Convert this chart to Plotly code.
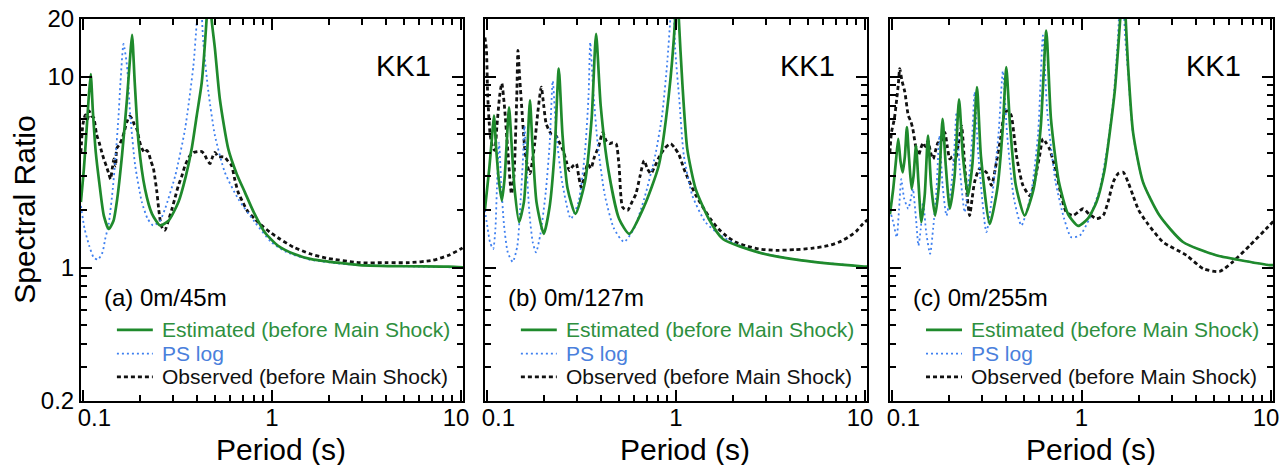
import plotly.graph_objects as go

FONT = "Liberation Sans, Arial, Helvetica, sans-serif"
GREEN = "#1f8a2c"
GREEN_TXT = "#2e8f3e"
BLUE = "#3f80f0"
BLUE_TXT = "#4a80dc"
BLACK = "#111111"

# ---------------- Panel (a) 0m/45m ----------------
T_est_a = [0.0976, 0.101, 0.104, 0.107, 0.110, 0.113, 0.117, 0.122, 0.129, 0.137, 0.145, 0.152, 0.161,
           0.171, 0.178, 0.182, 0.188, 0.197, 0.213, 0.232, 0.256, 0.284, 0.320, 0.350, 0.376, 0.400,
           0.425, 0.451, 0.465, 0.479, 0.499, 0.530, 0.587, 0.650, 0.718, 0.800, 0.915, 1.076, 1.30,
           1.585, 2.2, 2.9, 5.0, 8.6, 10.3]
R_est_a = [2.2, 3.2, 4.8, 7.4, 10.3, 6.5, 4.0, 2.8, 1.87, 1.59, 1.75, 2.3, 3.86,
           7.6, 12.9, 16.5, 9.3, 4.5, 2.58, 1.91, 1.66, 1.76, 2.2, 3.0, 4.18, 6.25,
           9.3, 20.0, 35.0, 20.0, 14.0, 7.6, 4.18, 3.1, 2.48, 1.95, 1.53, 1.30, 1.18,
           1.11, 1.06, 1.03, 1.015, 1.01, 1.0]

T_ps_a = [0.0976, 0.102, 0.108, 0.114, 0.120, 0.127, 0.131, 0.137, 0.144, 0.149, 0.154, 0.158, 0.164,
          0.171, 0.178, 0.189, 0.205, 0.220, 0.235, 0.255, 0.272, 0.308, 0.347, 0.384, 0.400, 0.416,
          0.433, 0.461, 0.499, 0.563, 0.662, 0.811, 0.990, 1.2, 1.585, 2.5, 5.0, 10.3]
R_ps_a = [2.1, 1.6, 1.3, 1.13, 1.10, 1.2, 1.4, 1.7, 2.6, 3.86, 6.0, 9.3, 14.8,
          11.4, 6.25, 3.42, 2.2, 1.8, 1.66, 1.75, 2.03, 3.03, 5.32, 11.4, 19.2, 30.0,
          15.1, 8.3, 4.91, 3.15, 2.29, 1.73, 1.36, 1.2, 1.10, 1.04, 1.015, 1.0]

T_obs_a = [0.0976, 0.100, 0.103, 0.106, 0.108, 0.111, 0.114, 0.118, 0.122, 0.126, 0.129, 0.133, 0.137,
           0.140, 0.143, 0.146, 0.149, 0.151, 0.156, 0.161, 0.166, 0.171, 0.177, 0.182, 0.187, 0.193,
           0.199, 0.205, 0.212, 0.218, 0.222, 0.229, 0.236, 0.241, 0.246, 0.252, 0.258, 0.264, 0.272,
           0.280, 0.296, 0.310, 0.320, 0.333, 0.347, 0.365, 0.384, 0.405, 0.425, 0.440, 0.451, 0.470,
           0.485, 0.499, 0.520, 0.545, 0.563, 0.585, 0.611, 0.635, 0.662, 0.700, 0.748, 0.810, 0.865,
           0.976, 1.10, 1.295, 1.585, 1.94, 2.9, 4.0, 5.3, 7.06, 8.6, 9.95, 10.3]
R_obs_a = [4.0, 5.6, 6.3, 6.0, 6.6, 6.2, 6.1, 5.0, 4.5, 4.0, 3.7, 3.4, 3.1,
           2.9, 3.3, 3.7, 3.4, 4.2, 4.4, 4.7, 5.2, 5.8, 6.2, 6.0, 5.6, 5.3,
           4.6, 4.2, 4.0, 4.1, 4.0, 3.6, 3.3, 2.9, 2.5, 2.0, 1.7, 1.6, 1.57,
           1.7, 2.03, 2.4, 2.69, 3.0, 3.42, 3.8, 4.0, 4.05, 4.05, 3.9, 3.71, 3.5,
           3.8, 4.0, 3.8, 3.8, 3.78, 3.6, 3.42, 2.9, 2.48, 2.2, 1.95, 1.8, 1.69,
           1.53, 1.41, 1.28, 1.18, 1.12, 1.06, 1.06, 1.06, 1.09, 1.16, 1.25, 1.28]

# ---------------- Panel (b) 0m/127m ----------------
T_est_b = [0.0976, 0.103, 0.106, 0.109, 0.112, 0.116, 0.120, 0.124, 0.127, 0.131, 0.135, 0.140, 0.148,
           0.157, 0.163, 0.169, 0.174, 0.183, 0.200, 0.215, 0.228, 0.240, 0.251, 0.267, 0.294, 0.330,
           0.358, 0.378, 0.400, 0.440, 0.500, 0.566, 0.680, 0.811, 0.915, 0.990, 1.012, 1.035, 1.08,
           1.147, 1.27, 1.49, 1.77, 2.73, 4.61, 9.55, 10.3]
R_est_b = [2.0, 3.3, 4.6, 6.25, 4.2, 2.8, 2.24, 2.9, 4.3, 6.9, 4.5, 2.6, 1.73,
           2.2, 3.8, 7.5, 4.5, 2.2, 1.50, 2.1, 4.0, 11.0, 5.0, 2.6, 1.91, 2.8,
           6.0, 16.7, 7.0, 3.2, 1.8, 1.50, 2.1, 3.42, 7.9, 20.0, 35.0, 20.0, 9.3,
           4.18, 2.58, 1.8, 1.41, 1.20, 1.09, 1.015, 1.01]

T_ps_b = [0.0976, 0.101, 0.104, 0.108, 0.111, 0.113, 0.116, 0.119, 0.123, 0.129, 0.137, 0.145, 0.151,
          0.155, 0.158, 0.162, 0.168, 0.175, 0.182, 0.192, 0.205, 0.215, 0.223, 0.233, 0.250, 0.278,
          0.305, 0.330, 0.345, 0.352, 0.365, 0.385, 0.420, 0.470, 0.531, 0.600, 0.680, 0.778, 0.844,
          0.900, 0.933, 0.960, 0.990, 1.04, 1.10, 1.22, 1.43, 1.68, 2.0, 2.73, 4.61, 9.55, 10.3]
R_ps_b = [2.0, 1.6, 1.35, 1.25, 1.6, 2.6, 4.5, 2.8, 1.7, 1.2, 1.07, 1.3, 2.3,
          3.6, 5.5, 3.5, 1.9, 1.35, 1.2, 1.5, 2.5, 4.5, 9.5, 5.0, 2.8, 1.8,
          2.2, 4.0, 8.0, 15.1, 8.5, 4.5, 2.4, 1.6, 1.36, 1.6, 2.3, 3.9, 6.25,
          12.0, 20.0, 35.0, 14.0, 7.65, 3.86, 2.38, 1.73, 1.5, 1.35, 1.2, 1.09, 1.015, 1.01]

T_obs_b = [0.0976, 0.0994, 0.101, 0.104, 0.107, 0.110, 0.113, 0.117, 0.120, 0.124, 0.129, 0.135, 0.139,
           0.141, 0.144, 0.146, 0.149, 0.152, 0.159, 0.164, 0.169, 0.174, 0.179, 0.186, 0.194, 0.200,
           0.206, 0.219, 0.232, 0.242, 0.253, 0.263, 0.273, 0.285, 0.297, 0.306, 0.315, 0.328, 0.341,
           0.355, 0.370, 0.390, 0.410, 0.428, 0.444, 0.462, 0.482, 0.500, 0.522, 0.554, 0.585, 0.614,
           0.645, 0.678, 0.705, 0.736, 0.775, 0.814, 0.870, 0.938, 0.990, 1.037, 1.10, 1.17, 1.27,
           1.375, 1.52, 1.68, 1.85, 2.06, 2.4, 2.73, 3.4, 4.27, 5.2, 6.38, 7.3, 8.13, 9.0, 9.55, 10.3]
R_obs_b = [16.0, 14.0, 8.0, 5.0, 4.3, 4.1, 5.5, 8.0, 9.2, 6.9, 4.1, 2.43, 3.0,
           4.1, 8.0, 13.7, 10.0, 7.5, 4.1, 3.4, 3.1, 3.6, 4.45, 6.5, 8.8, 7.0,
           5.65, 5.0, 4.9, 4.5, 4.1, 3.6, 3.22, 3.4, 3.49, 3.0, 2.63, 3.0, 3.49,
           3.3, 3.78, 4.3, 5.1, 4.6, 4.45, 4.5, 4.45, 3.4, 2.07, 1.99, 2.2, 2.43,
           3.0, 3.63, 3.3, 3.1, 3.4, 3.78, 4.2, 4.45, 4.2, 3.9, 3.3, 2.85, 2.4,
           2.1, 1.8, 1.59, 1.46, 1.36, 1.29, 1.25, 1.23, 1.24, 1.26, 1.30, 1.36, 1.44, 1.55, 1.66, 1.78]

# ---------------- Panel (c) 0m/255m ----------------
T_est_c = [0.0976, 0.1017, 0.105, 0.108, 0.111, 0.114, 0.117, 0.120, 0.123, 0.127, 0.130, 0.134, 0.138,
           0.143, 0.149, 0.155, 0.161, 0.169, 0.177, 0.185, 0.192, 0.202, 0.214, 0.226, 0.237, 0.252,
           0.266, 0.281, 0.295, 0.328, 0.360, 0.385, 0.401, 0.420, 0.450, 0.501, 0.560, 0.610, 0.652,
           0.690, 0.760, 0.850, 0.960, 1.08, 1.20, 1.32, 1.41, 1.50, 1.56, 1.60, 1.66, 1.71, 1.76,
           1.87, 2.11, 2.58, 3.43, 5.13, 9.81, 10.3]
R_est_c = [1.9, 2.6, 3.6, 4.72, 3.6, 3.15, 3.8, 5.43, 3.8, 2.58, 3.0, 4.35, 2.8,
           1.73, 2.4, 4.91, 2.7, 1.87, 2.7, 6.0, 3.5, 2.03, 3.0, 7.6, 3.8, 2.38,
           3.5, 8.8, 3.8, 1.69, 2.6, 5.5, 11.2, 5.5, 2.7, 1.87, 2.6, 5.5, 17.4,
           6.0, 2.8, 1.9, 1.65, 1.8, 2.2, 3.2, 5.1, 8.5, 14.0, 20.0, 35.0, 20.0, 11.4,
           5.1, 2.8, 1.87, 1.36, 1.16, 1.03, 1.03]

T_ps_c = [0.0976, 0.102, 0.106, 0.109, 0.112, 0.116, 0.122, 0.126, 0.129, 0.134, 0.138, 0.142, 0.146,
          0.152, 0.159, 0.165, 0.172, 0.178, 0.185, 0.194, 0.205, 0.213, 0.219, 0.227, 0.242, 0.257,
          0.265, 0.273, 0.285, 0.315, 0.340, 0.365, 0.385, 0.405, 0.440, 0.482, 0.540, 0.590, 0.626,
          0.660, 0.730, 0.810, 0.883, 0.980, 1.10, 1.25, 1.38, 1.48, 1.55, 1.63, 1.70, 1.76, 1.87,
          2.11, 2.58, 3.43, 5.13, 9.81, 10.3]
R_ps_c = [2.0, 1.7, 1.44, 2.0, 2.9, 2.3, 2.03, 2.3, 2.58, 1.8, 1.30, 1.6, 2.2,
          1.5, 1.18, 1.6, 2.6, 4.9, 2.7, 1.87, 2.6, 4.0, 6.5, 3.5, 1.95, 3.2,
          4.8, 8.3, 4.0, 1.53, 2.5, 5.0, 10.7, 5.0, 2.3, 1.66, 2.4, 5.0, 16.4,
          6.5, 2.8, 1.8, 1.44, 1.47, 1.8, 2.6, 4.5, 8.0, 15.0, 35.0, 16.0, 10.5, 5.0,
          2.8, 1.87, 1.36, 1.16, 1.03, 1.03]

T_obs_c = [0.0976, 0.0995, 0.103, 0.106, 0.108, 0.110, 0.113, 0.117, 0.122, 0.126, 0.129, 0.133, 0.138,
           0.142, 0.146, 0.150, 0.155, 0.160, 0.165, 0.170, 0.175, 0.182, 0.190, 0.196, 0.202, 0.208,
           0.215, 0.224, 0.233, 0.242, 0.250, 0.257, 0.265, 0.273, 0.290, 0.315, 0.335, 0.356, 0.375,
           0.394, 0.410, 0.426, 0.440, 0.454, 0.470, 0.491, 0.533, 0.555, 0.578, 0.600, 0.626, 0.650,
           0.678, 0.710, 0.736, 0.780, 0.831, 0.900, 0.960, 1.02, 1.10, 1.20, 1.30, 1.38, 1.47,
           1.56, 1.66, 1.76, 1.87, 2.0, 2.2, 2.69, 3.57, 4.39, 5.34, 6.28, 7.7, 9.39, 10.3]
R_obs_c = [4.0, 5.1, 6.0, 7.6, 9.0, 11.0, 9.5, 8.3, 6.25, 5.8, 5.3, 4.4, 3.86,
           4.2, 4.5, 4.3, 4.6, 4.0, 3.7, 4.1, 4.5, 4.6, 5.1, 4.3, 3.7, 3.8,
           3.6, 4.4, 5.5, 3.42, 2.3, 1.87, 2.3, 2.8, 3.29, 3.15, 2.69, 3.56, 4.8,
           6.5, 6.6, 6.25, 5.0, 3.86, 3.2, 2.69, 2.38, 2.6, 3.15, 3.8, 4.72, 4.5,
           4.18, 3.6, 3.15, 2.4, 1.95, 1.87, 1.95, 2.03, 1.9, 1.8, 1.87, 2.2, 2.8,
           3.1, 3.15, 2.8, 2.38, 2.0, 1.73, 1.36, 1.16, 0.985, 0.953, 1.07, 1.30, 1.59, 1.75]

panel_labels = ["(a) 0m/45m", "(b) 0m/127m", "(c) 0m/255m"]
site_label = "KK1"
legend_names = ["Estimated (before Main Shock)", "PS log", "Observed (before Main Shock)"]
x_tickvals = [0.1, 1, 10]
x_ticktext = ["0.1", "1", "10"]
# where the reference prints its period labels (pulled slightly inward at the ends)
x_labelvals = [0.115, 1, 9.4]
x_minor = [0.2, 0.3, 0.4, 0.5, 0.6, 0.7, 0.8, 0.9, 2, 3, 4, 5, 6, 7, 8, 9]
y_tickvals = [0.2, 1, 10, 20]
y_ticktext = ["0.2", "1", "10", "20"]
y_minor = [0.3, 0.4, 0.5, 0.6, 0.7, 0.8, 0.9, 2, 3, 4, 5, 6, 7, 8, 9]

panels = [
    (T_est_a, R_est_a, T_ps_a, R_ps_a, T_obs_a, R_obs_a),
    (T_est_b, R_est_b, T_ps_b, R_ps_b, T_obs_b, R_obs_b),
    (T_est_c, R_est_c, T_ps_c, R_ps_c, T_obs_c, R_obs_c),
]

domains = [[0.0, 0.3205], [0.3389, 0.6594], [0.6787, 1.0]]
X_RANGE = [-1.01, 1.01]
Y_RANGE = [-0.69897, 1.30103]

styles = [
    dict(color=GREEN, width=2.7, dash="solid"),
    dict(color=BLUE, width=1.8, dash="2px,3px"),
    dict(color=BLACK, width=2.8, dash="4px,3px"),
]

fig = go.Figure()
for i, (te, re_, tp, rp, to, ro) in enumerate(panels):
    sfx = "" if i == 0 else str(i + 1)
    for (tx, ry), st, nm in zip([(to, ro), (tp, rp), (te, re_)],
                                [styles[2], styles[1], styles[0]],
                                [legend_names[2], legend_names[1], legend_names[0]]):
        fig.add_trace(go.Scatter(
            x=tx, y=ry, mode="lines", name=nm, showlegend=False,
            line=dict(color=st["color"], width=st["width"], dash=st["dash"],
                      shape="spline", smoothing=0.6),
            xaxis="x" + sfx, yaxis="y" + sfx))

# empty carrier traces so that the overlay axes (minor ticks / labels) get drawn
for i in range(3):
    sfx = "" if i == 0 else str(i + 1)
    fig.add_trace(go.Scatter(x=[], y=[], mode="lines", showlegend=False, hoverinfo="skip",
                             xaxis="x" + str(i + 4), yaxis="y" + sfx))
    fig.add_trace(go.Scatter(x=[], y=[], mode="lines", showlegend=False, hoverinfo="skip",
                             xaxis="x" + sfx, yaxis="y" + str(i + 4)))
    fig.add_trace(go.Scatter(x=[], y=[], mode="lines", showlegend=False, hoverinfo="skip",
                             xaxis="x" + str(i + 7), yaxis="y" + sfx))

axis_common = dict(showline=True, linecolor="black", linewidth=2, mirror="ticks",
                   ticks="inside", ticklen=11, tickwidth=2, tickcolor="black",
                   showgrid=False, zeroline=False, automargin=False, ticklabeloverflow="allow",
                   tickfont=dict(family=FONT, size=24, color="black"))
minor_common = dict(showline=False, mirror="ticks", ticks="inside", ticklen=6, tickwidth=1.5,
                    tickcolor="black", showgrid=False, zeroline=False, automargin=False,
                    showticklabels=False)

layout = dict(
    width=1288, height=465,
    margin=dict(l=81, r=15, t=19, b=64),
    paper_bgcolor="white", plot_bgcolor="white",
    font=dict(family=FONT, color="black"),
    showlegend=False,
)

for i in range(3):
    sfx = "" if i == 0 else str(i + 1)
    layout["xaxis" + sfx] = dict(
        axis_common, type="log", range=X_RANGE, domain=domains[i],
        anchor="y" + sfx, tickmode="array", tickvals=x_tickvals, ticktext=x_ticktext,
        showticklabels=False)
    layout["yaxis" + sfx] = dict(
        axis_common, type="log", range=Y_RANGE, domain=[0, 1],
        anchor="x" + sfx, tickmode="array", tickvals=y_tickvals, ticktext=y_ticktext,
        showticklabels=(i == 0))
    # overlay axes carrying the minor ticks
    layout["xaxis" + str(i + 4)] = dict(
        minor_common, type="log", range=X_RANGE, domain=domains[i],
        overlaying="x" + sfx, anchor="y" + sfx, side="bottom",
        tickmode="array", tickvals=x_minor)
    layout["yaxis" + str(i + 4)] = dict(
        minor_common, type="log", range=Y_RANGE, domain=[0, 1],
        overlaying="y" + sfx, anchor="x" + sfx, side="left",
        tickmode="array", tickvals=y_minor)
    # overlay axis carrying the period labels
    layout["xaxis" + str(i + 7)] = dict(
        type="log", range=X_RANGE, domain=domains[i], overlaying="x" + sfx,
        anchor="y" + sfx, side="bottom", showline=False, ticks="", showgrid=False,
        zeroline=False, automargin=False, ticklabeloverflow="allow",
        tickmode="array", tickvals=x_labelvals, ticktext=x_ticktext,
        tickfont=dict(family=FONT, size=24, color="black"))

fig.update_layout(**layout)

annotations = []
shapes = []
leg_rows = [0.186, 0.124, 0.063]
leg_colors = [GREEN_TXT, BLUE_TXT, BLACK]
for i in range(3):
    sfx = "" if i == 0 else str(i + 1)
    xd = "x" + sfx + " domain"
    yd = "y" + sfx + " domain"
    annotations.append(dict(text=site_label, x=0.921, y=0.877, xref=xd, yref=yd,
                            xanchor="right", yanchor="middle", showarrow=False,
                            font=dict(family=FONT, size=29, color="black")))
    annotations.append(dict(text=panel_labels[i], x=0.055, y=0.272, xref=xd, yref=yd,
                            xanchor="left", yanchor="middle", showarrow=False,
                            font=dict(family=FONT, size=24, color="black")))
    annotations.append(dict(text="Period (s)", x=0.524, y=-0.128, xref=xd, yref=yd,
                            xanchor="center", yanchor="middle", showarrow=False,
                            font=dict(family=FONT, size=30, color="black")))
    for k in range(3):
        st = styles[k]
        shapes.append(dict(type="line", xref=xd, yref=yd, x0=0.094, x1=0.188,
                           y0=leg_rows[k], y1=leg_rows[k],
                           line=dict(color=st["color"], width=st["width"], dash=st["dash"])))
        annotations.append(dict(text=legend_names[k], x=0.207, y=leg_rows[k], xref=xd, yref=yd,
                                xanchor="left", yanchor="middle", showarrow=False,
                                font=dict(family=FONT, size=21, color=leg_colors[k])))

annotations.append(dict(text="Spectral Ratio", x=-0.048, y=0.5, xref="paper", yref="paper",
                        textangle=-90, xanchor="center", yanchor="middle", showarrow=False,
                        font=dict(family=FONT, size=30, color="black")))

fig.update_layout(annotations=annotations, shapes=shapes)
fig.write_html("out.html", config={"displayModeBar": False},
               post_script="document.body.style.margin='0px';document.body.style.overflow='hidden';")
